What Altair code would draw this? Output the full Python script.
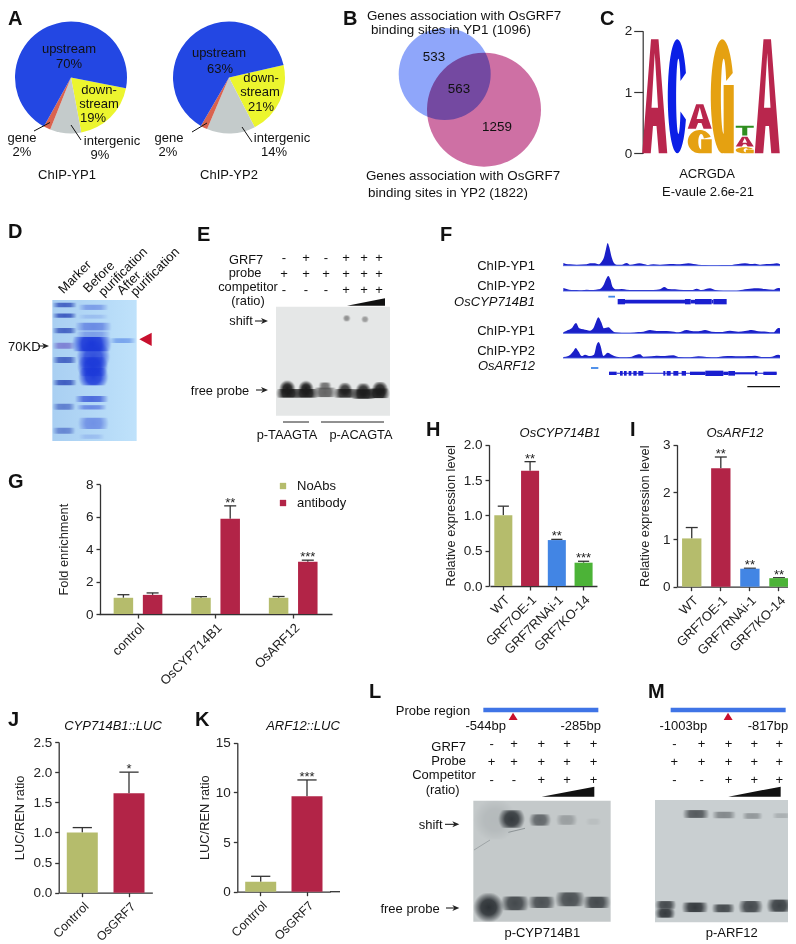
import numpy as np
import pandas as pd
import altair as alt

FONT = "Liberation Sans"
OLIVE, CRIMSON, BLUE, GREEN = "#B5BC6C", "#B22447", "#4285E4", "#4CB337"
INK = "#222222"
AX = "#333333"

# ---------- data ----------
pie1_values = [19, 9, 2, 70]
pie2_values = [21, 14, 2, 63]
pie_colors = ["#ECF52E", "#C4CBCB", "#D9634F", "#2347E3"]

logo_pos = [1, 2, 3, 3, 4, 5, 5, 5, 6]
logo_letter = ["A", "C", "G", "A", "G", "G", "A", "T", "A"]
logo_base = [0, 0, 0, 0.40, 0, 0, 0.11, 0.29, 0]
logo_height = [1.86, 1.86, 0.38, 0.40, 1.86, 0.10, 0.16, 0.16, 1.86]
logo_colors = {"A": "#B9264D", "C": "#0B1FE6", "G": "#E5A111", "T": "#2F8E1F"}
logo_widths = {1: 25, 2: 19, 3: 24, 4: 23, 5: 18, 6: 25}

track1 = [(400,8),(408,5),(420,4),(440,3),(470,4),(480,7),(495,7),(505,4),(515,12),(522,25),(528,50),(533,68),(538,55),(545,25),(552,8),(560,3),(575,3),(590,8),(600,3),(615,5),(628,7),(640,5),(655,2),(670,4),(690,3),(710,4),(730,5),(750,4),(775,7),(790,5),(805,3),(825,2),(850,1),(875,2),(900,2),(925,5),(945,7),(960,5),(975,6),(990,3),(1010,5),(1030,6),(1040,7),(1050,4)]
track2 = [(400,9),(410,6),(425,3),(440,3),(455,2),(470,4),(490,3),(505,5),(515,10),(522,20),(528,35),(535,45),(541,35),(548,12),(558,5),(575,6),(590,4),(610,3),(640,3),(670,3),(690,5),(703,12),(715,6),(735,5),(760,3),(785,3),(800,7),(815,3),(840,8),(855,3),(880,1),(920,1),(945,5),(960,7),(985,8),(1005,6),(1030,4),(1045,9),(1050,8)]
track3 = [(400,3),(410,8),(425,15),(438,31),(448,15),(460,12),(480,8),(490,15),(498,35),(505,48),(513,35),(522,15),(535,18),(545,10),(555,3),(575,2),(600,2),(625,4),(640,5),(660,10),(680,7),(700,7),(720,6),(745,3),(770,10),(790,6),(805,6),(825,10),(845,5),(870,4),(900,8),(925,5),(945,7),(965,10),(985,6),(1010,5),(1030,3),(1045,16),(1050,15)]
track4 = [(400,3),(415,6),(430,20),(437,30),(445,20),(455,6),(465,10),(480,6),(492,10),(500,40),(506,48),(512,35),(520,6),(533,16),(545,10),(560,4),(580,2),(600,3),(620,10),(630,11),(640,4),(665,5),(680,7),(705,6),(730,8),(745,3),(780,2),(805,5),(830,3),(860,2),(880,5),(905,6),(930,5),(955,6),(975,7),(1000,3),(1020,3),(1045,10),(1050,8)]
gene1_exons = [(563,585,16),(585,765,11),(765,782,16),(782,795,11),(795,845,16),(845,850,11),(850,890,16)]
gene2_exons = [(537,560,10),(560,1040,3),(570,578,14),(582,590,14),(596,604,14),(610,620,14),(625,640,14),(700,706,14),(710,722,14),(730,745,14),(755,768,14),(780,826,10),(826,880,16),(880,895,10),(895,915,14),(915,975,6),(975,982,14),(1000,1040,10)]

g_cats = ["control", "OsCYP714B1", "OsARF12"]
g_noabs = [1.0, 1.0, 1.0]
g_noabs_err = [0.19, 0.07, 0.08]
g_anti = [1.18, 5.87, 3.22]
g_anti_err = [0.12, 0.8, 0.1]
g_noabs_star = ["", "", ""]
g_anti_star = ["", "**", "***"]

line_cats = ["WT", "GRF7OE-1", "GRF7RNAi-1", "GRF7KO-14"]
line_colors = [OLIVE, CRIMSON, BLUE, GREEN]
h_vals, h_errs, h_stars = [1.0, 1.63, 0.65, 0.33], [0.13, 0.13, 0.01, 0.02], ["", "**", "**", "***"]
i_vals, i_errs, i_stars = [1.02, 2.5, 0.38, 0.18], [0.23, 0.24, 0.01, 0.01], ["", "**", "**", "**"]
luc_cats = ["Contrrol", "OsGRF7"]
j_vals, j_errs, j_stars = [1.0, 1.65], [0.08, 0.35], ["", "*"]
k_vals, k_errs, k_stars = [1.0, 9.6], [0.55, 1.65], ["", "***"]

W, H = 780, 936
layers = []
ONE = pd.DataFrame({"a": [0]})
texts = []


def T(s, x, y, size=13, align="center", angle=0, italic=False, bold=False):
    texts.append(dict(t=s, x=x - 8, y=y - 8, s=size, an=angle, align=align,
                      st="italic" if italic else "normal", w="bold" if bold else "normal"))


def rule(x1, y1, x2, y2, color=INK, width=1.0):
    layers.append(alt.Chart(ONE).mark_rule(color=color, strokeWidth=width).encode(
        x=alt.value(x1 - 8), y=alt.value(y1 - 8), x2=alt.value(x2 - 8), y2=alt.value(y2 - 8)))


def poly(points, color):
    path = "M" + "L".join(f"{x-8:.2f},{y-8:.2f}" for x, y in points) + "Z"
    layers.append(alt.Chart(ONE).mark_point(shape=path, size=4, filled=True, opacity=1, color=color,
                                            strokeWidth=0).encode(x=alt.value(0), y=alt.value(0)))


def arrow(x1, x2, y):
    rule(x1, y, x2 - 3, y, INK, 1.1)
    poly([(x2, y), (x2 - 7, y - 3), (x2 - 5, y), (x2 - 7, y + 3)], INK)


def pie(values, cx, cy, r, start_deg):
    df = pd.DataFrame({"v": values, "i": range(len(values)), "c": pie_colors})
    a = np.deg2rad(start_deg)
    layers.append(alt.Chart(df).mark_arc(radius=r, strokeWidth=0).encode(
        theta=alt.Theta("v:Q", stack=True, scale=alt.Scale(domain=[0, 100], range=[a, a + 2 * np.pi])),
        order=alt.Order("i:Q"),
        color=alt.Color("c:N", scale=None, legend=None),
        x=alt.value(cx - 8), y=alt.value(cy - 8)))


def base_axes(ypx, xpx, ytitle, ticks, fmt, tick_size=4, title_pad=6, xfont=13):
    yax = alt.Axis(orient="left", offset=-(xpx - 8), title=ytitle, values=ticks, format=fmt, grid=False,
                   tickSize=tick_size, titlePadding=title_pad, titleFontSize=12.8, titleFontWeight="normal",
                   titleColor=INK, labelFontSize=13.5, labelColor=INK, domainColor=AX, tickColor=AX,
                   domainWidth=1.3, tickWidth=1.3, labelPadding=3)
    xax = alt.Axis(orient="bottom", offset=(ypx - 8) - H, title=None, labelAngle=-45, labelFontSize=xfont,
                   labelColor=INK, domainColor=AX, tickColor=AX, domainWidth=1.3, tickWidth=1.3, tickSize=4,
                   grid=False, labelPadding=3)
    return xax, yax


def error_layers(df, X, ys, cap):
    layers.append(alt.Chart(df).mark_rule(color=AX, strokeWidth=1.3).encode(
        x=X, y=alt.Y("val:Q", scale=ys, axis=None), y2="top:Q"))
    layers.append(alt.Chart(df).mark_point(shape="stroke", size=cap * cap, color=AX, strokeWidth=1.3,
                                           opacity=1).encode(x=X, y=alt.Y("top:Q", scale=ys, axis=None)))


def star_layer(df, X, ys):
    layers.append(alt.Chart(df).mark_text(font=FONT, fontSize=13, dy=-3, color=INK).encode(
        x=X, y=alt.Y("top:Q", scale=ys, axis=None), text="star:N"))


def barpanel(cats, vals, errs, stars, colors, centers, bar_w, y0, y1, ymax, ticks, fmt, ytitle, xaxis_px,
             title_pad=6, xfont=13):
    step = centers[1] - centers[0]
    p = 1 - bar_w / step
    xs = alt.Scale(domain=cats, range=[centers[0] - step / 2 - 8, centers[-1] + step / 2 - 8],
                   paddingInner=p, paddingOuter=p / 2)
    ys = alt.Scale(domain=[0, ymax], range=[y0 - 8, y1 - 8], nice=False)
    df = pd.DataFrame({"cat": cats, "val": vals, "top": [v + e for v, e in zip(vals, errs)],
                       "star": stars, "col": colors})
    xax, yax = base_axes(y0, xaxis_px, ytitle, ticks, fmt, title_pad=title_pad, xfont=xfont)
    X = alt.X("cat:N", scale=xs, axis=None, sort=cats)
    error_layers(df, X, ys, bar_w * 0.62)
    layers.append(alt.Chart(df).mark_bar().encode(
        x=alt.X("cat:N", scale=xs, axis=xax, sort=cats),
        y=alt.Y("val:Q", scale=ys, axis=yax),
        color=alt.Color("col:N", scale=None, legend=None)))
    star_layer(df, X, ys)


def gel(ox, oy, box, bg, bands):
    """box and bands are in the picture's 3x zoom units, with origin ox, oy"""
    xa, xb, ya, yb = box
    xs = alt.Scale(domain=[xa, xb], range=[xa / 3 + ox - 8, xb / 3 + ox - 8], nice=False, zero=False)
    ys = alt.Scale(domain=[ya, yb], range=[ya / 3 + oy - 8, yb / 3 + oy - 8], nice=False, zero=False)
    df = pd.DataFrame({"a": [xa], "b": [xb], "c": [ya], "d": [yb]})
    layers.append(alt.Chart(df).mark_rect(fill=bg, strokeWidth=0).encode(
        x=alt.X("a:Q", scale=xs, axis=None), x2="b:Q", y=alt.Y("c:Q", scale=ys, axis=None), y2="d:Q"))
    for color, rows in bands.items():
        bd = pd.DataFrame(rows, columns=["cx", "cy", "w", "h", "op"])
        bd["w"], bd["h"] = bd.w * 1.3, bd.h * 1.3
        bd["a"], bd["b"] = (bd.cx - bd.w / 2).clip(lower=xa), (bd.cx + bd.w / 2).clip(upper=xb)
        bd["c"], bd["d"] = (bd.cy - bd.h / 2).clip(lower=ya), (bd.cy + bd.h / 2).clip(upper=yb)
        grad = {"gradient": "radial", "stops": [
            {"offset": 0, "color": color},
            {"offset": 0.5, "color": color + "E6"},
            {"offset": 0.8, "color": color + "66"},
            {"offset": 1, "color": color + "00"}]}
        layers.append(alt.Chart(bd).mark_rect(fill=grad, strokeWidth=0).encode(
            x=alt.X("a:Q", scale=xs, axis=None), x2="b:Q", y=alt.Y("c:Q", scale=ys, axis=None), y2="d:Q",
            opacity=alt.Opacity("op:Q", scale=None, legend=None)))


# ---------- panel letters ----------
for s, x, y in [("A", 8, 19), ("B", 343, 19), ("C", 600, 19), ("D", 8, 232), ("E", 197, 235), ("F", 440, 235),
                ("G", 8, 482), ("H", 426, 430), ("I", 630, 430), ("J", 8, 720), ("K", 195, 720),
                ("L", 369, 692), ("M", 648, 692)]:
    T(s, x, y, 20, "left", bold=True)

# ---------- A ----------
pie(pie1_values, 71, 77.5, 56, 101)
pie(pie2_values, 229, 77.5, 56, 77)
rule(34, 131, 50, 122.5, "#111111", 1)
rule(71, 125, 81, 140, "#111111", 1)
rule(192, 132, 207, 123, "#111111", 1)
rule(242, 127, 252, 142, "#111111", 1)
for s, x, y in [("upstream", 69, 49), ("70%", 69, 64), ("down-", 99, 90), ("stream", 99, 104), ("19%", 93, 118),
                ("gene", 22, 138), ("2%", 22, 152), ("intergenic", 112, 141), ("9%", 100, 155), ("ChIP-YP1", 67, 175),
                ("upstream", 219, 53), ("63%", 220, 69), ("down-", 261, 78), ("stream", 260, 92), ("21%", 261, 107),
                ("gene", 169, 138), ("2%", 168, 152), ("intergenic", 282, 138), ("14%", 274, 152), ("ChIP-YP2", 229, 175)]:
    T(s, x, y)

# ---------- B ----------
layers.append(alt.Chart(ONE).mark_point(filled=True, opacity=1, color="#8FA6FA", size=(2 * 46) ** 2, strokeWidth=0).encode(
    x=alt.value(444.7 - 8), y=alt.value(74 - 8)))
layers.append(alt.Chart(ONE).mark_point(filled=True, opacity=1, color="#CE70A4", size=(2 * 57) ** 2, strokeWidth=0,
                                        blend="multiply").encode(x=alt.value(484 - 8), y=alt.value(109.7 - 8)))
for s, x, y in [("Genes association with OsGRF7", 464, 16), ("binding sites in YP1 (1096)", 451, 30),
                ("533", 434, 57), ("563", 459, 89), ("1259", 497, 127),
                ("Genes association with OsGRF7", 463, 176), ("binding sites in YP2 (1822)", 448, 193)]:
    T(s, x, y, 13.4)


# ---------- C ----------
def contour(pts, w, h):
    return "M" + "L".join(f"{u*w:.2f},{-v*h:.2f}" for u, v in pts) + "Z"


def ring(t0, t1, rx=0.12, ry=0.33, cx=0.06):
    ts = np.deg2rad(np.linspace(t0, t1, 40))
    outer = [(0.5 * np.cos(t), 0.5 * np.sin(t)) for t in ts]
    inner = [(cx + rx * np.cos(t), ry * np.sin(t)) for t in ts[::-1]]
    return outer + inner


def glyph(letter, w, h):
    if letter == "A":
        return (contour([(-.5, -.5), (-.15, .5), (.15, .5), (.5, -.5), (.16, -.5), (.07, -.26), (-.07, -.26), (-.16, -.5)], w, h)
                + contour([(-.13, -.1), (.13, -.1), (0, .38)], w, h))
    if letter == "C":
        return contour(ring(24, 336), w, h)
    if letter == "G":
        return (contour(ring(24, 320), w, h)
                + contour([(.06, -.5), (.5, -.5), (.5, .1), (.06, .1)], w, h))
    return contour([(-.5, .5), (-.5, .28), (-.14, .28), (-.14, -.5), (.14, -.5), (.14, .28), (.5, .28), (.5, .5)], w, h)


logo_x = alt.Scale(domain=[1, 2, 3, 4, 5, 6], range=[643.5 - 8, 778.5 - 8], paddingInner=0, paddingOuter=0)
logo_y = alt.Scale(domain=[0, 2], range=[153.3 - 8, 30.7 - 8], nice=False)
px_bit = (153.3 - 30.7) / 2
logo_df = pd.DataFrame({"pos": logo_pos, "letter": logo_letter,
                        "mid": [b + h / 2 for b, h in zip(logo_base, logo_height)],
                        "path": [glyph(l, logo_widths[p], h * px_bit) for l, p, h in zip(logo_letter, logo_pos, logo_height)],
                        "col": [logo_colors[l] for l in logo_letter]})
layers.append(alt.Chart(logo_df).mark_point(filled=True, opacity=1, size=4, strokeWidth=0).encode(
    x=alt.X("pos:O", scale=logo_x, axis=None),
    y=alt.Y("mid:Q", scale=logo_y, axis=alt.Axis(orient="left", offset=-(642.7 - 8), title=None, values=[0, 1, 2], grid=False,
                                                 tickSize=9, labelFontSize=13.5, labelColor=INK, domainColor=AX, tickColor=AX,
                                                 domainWidth=1.2, tickWidth=1.2, format="d", labelPadding=2,
                                                 labelOverlap=False)),
    shape=alt.Shape("path:N", scale=None, legend=None),
    color=alt.Color("col:N", scale=None, legend=None)))
layers.append(alt.Chart(logo_df).mark_point(opacity=0).encode(
    y=alt.Y("mid:Q", scale=logo_y, axis=alt.Axis(orient="left", offset=-(642.7 - 8), title=None, values=[1], grid=False, domain=False,
                                                 tickSize=9, labelFontSize=13.5, labelColor=INK, tickColor=AX,
                                                 tickWidth=1.2, format="d", labelPadding=2, labelOverlap=False))))
T("ACRGDA", 707, 174, 13)
T("E-vaule 2.6e-21", 708, 192, 13)

# ---------- D ----------
gel(0, 210, (157, 410, 270, 693),
    {"gradient": "linear", "x1": 0, "x2": 1, "y1": 0, "y2": 0,
     "stops": [{"offset": 0, "color": "#A9CFF2"}, {"offset": 0.5, "color": "#B3D8F6"}, {"offset": 1, "color": "#BFE2FB"}]},
    {"#2C49B8": [(193, 285, 58, 10, .8), (193, 317, 58, 10, .85), (193, 362, 58, 12, .8), (193, 450, 58, 14, .8),
                 (193, 518, 58, 12, .85), (190, 590, 56, 14, .6), (190, 662, 56, 14, .55)],
     "#6A60C8": [(190, 407, 56, 14, .7)],
     "#3A58D8": [(280, 292, 70, 12, .45), (280, 350, 85, 18, .6), (280, 372, 80, 12, .45), (280, 320, 70, 9, .2),
                 (275, 567, 78, 14, .85), (275, 592, 70, 10, .6), (280, 640, 72, 26, .55), (275, 680, 60, 10, .2)],
     "#1B38D8": [(275, 402, 92, 34, 1), (280, 440, 78, 70, .85), (278, 470, 72, 44, .95), (280, 500, 70, 40, .95)],
     "#5C8CE8": [(368, 392, 62, 11, .7)]})
T("Marker", 75, 277, 13, angle=-45)
T("Before", 99, 277, 13, angle=-45)
T("purification", 123, 272, 13, angle=-45)
T("After", 129, 283, 13, angle=-45)
T("purification", 155, 272, 13, angle=-45)
T("70KD", 8, 347, 13, "left")
arrow(38, 49, 346)
poly([(139.3, 339.3), (151.7, 332.7), (151.7, 346)], "#C8102E")

# ---------- E ----------
gel(0, 210, (828, 1170, 290, 617), "#E5E7E7",
    {"#1C1C1C": [(862, 550, 62, 20, 1), (862, 535, 38, 36, 1), (918, 550, 58, 20, 1), (918, 535, 36, 36, 1),
                 (1035, 550, 54, 20, .9), (1035, 538, 34, 30, .85), (1090, 552, 58, 22, 1), (1090, 540, 36, 30, .9),
                 (1140, 550, 60, 22, 1), (1140, 537, 38, 32, .95)],
     "#555555": [(975, 547, 54, 22, .9), (975, 528, 30, 16, .8)],
     "#777777": [(1040, 325, 18, 14, .8), (1095, 328, 18, 14, .7)]})
for s, x, y in [("GRF7", 246, 259.5), ("probe", 245, 273), ("competitor", 248, 287), ("(ratio)", 248, 300.5),
                ("shift", 241, 321), ("free probe", 220, 391), ("p-TAAGTA", 287, 435), ("p-ACAGTA", 361, 435)]:
    T(s, x, y, 12.8)
e_cols = [284, 306, 326, 346, 364, 379]
for col, sg in zip(e_cols, ["-", "+", "-", "+", "+", "+"]):
    T(sg, col, 257.7, 13)
for col in e_cols:
    T("+", col, 274, 13)
for col, sg in zip(e_cols, ["-", "-", "-", "+", "+", "+"]):
    T(sg, col, 290, 13)
poly([(347, 305.7), (385, 298.3), (385, 305.7)], "#111111")
arrow(255, 268, 321)
arrow(256, 268, 390)
rule(283, 422, 309, 422, "#222222", 1)
rule(321, 422, 384, 422, "#222222", 1)

# ---------- F ----------
fx = alt.Scale(domain=[400, 1050], range=[400 / 3 + 430 - 8, 1050 / 3 + 430 - 8], nice=False, zero=False)
fy = alt.Scale(domain=[0, 600], range=[220 - 8, 420 - 8], nice=False, zero=False)
for tr, base in zip([track1, track2, track3, track4], [137, 213, 340, 414]):
    d = pd.DataFrame(tr, columns=["p", "h"])
    d["top"], d["base"] = base - d.h, base
    layers.append(alt.Chart(d).mark_area(color="#1A1FC8", interpolate="monotone", opacity=1).encode(
        x=alt.X("p:Q", scale=fx, axis=None), y=alt.Y("top:Q", scale=fy, axis=None), y2="base:Q"))
    rule(563, base / 3 + 220, 780, base / 3 + 220, "#4F63E0", 0.9)
for ex, yc in [(gene1_exons, 245), (gene2_exons, 460)]:
    d = pd.DataFrame(ex, columns=["a", "b", "h"])
    d["t"], d["u"] = yc - d.h / 2, yc + d.h / 2
    layers.append(alt.Chart(d).mark_rect(color="#1A1FD0", strokeWidth=0).encode(
        x=alt.X("a:Q", scale=fx, axis=None), x2="b:Q", y=alt.Y("t:Q", scale=fy, axis=None), y2="u:Q"))
rule(535 / 3 + 430, 230 / 3 + 220, 555 / 3 + 430, 230 / 3 + 220, "#3F86E8", 1.8)
rule(483 / 3 + 430, 444 / 3 + 220, 505 / 3 + 430, 444 / 3 + 220, "#3F86E8", 1.8)
rule(952 / 3 + 430, 500 / 3 + 220, 1050 / 3 + 430, 500 / 3 + 220, "#111111", 1.4)
for s, y, it in [("ChIP-YP1", 265.7, False), ("ChIP-YP2", 285.7, False), ("OsCYP714B1", 301.7, True),
                 ("ChIP-YP1", 330.7, False), ("ChIP-YP2", 350.7, False), ("OsARF12", 366, True)]:
    T(s, 535, y, 13, "right", italic=it)

# ---------- G ----------
g_centers = [138, 215.6, 293.2]
g_step = g_centers[1] - g_centers[0]
g_w = 19.5
g_p = 1 - g_w / g_step
g_a, g_b = g_centers[0] - g_step / 2 - 8, g_centers[-1] + g_step / 2 - 8
g_ys = alt.Scale(domain=[0, 8], range=[614 - 8, 484.3 - 8], nice=False)
g_xax, g_yax = base_axes(614, 100, "Fold enrichment", [0, 2, 4, 6, 8], "d", title_pad=15)
g_xs0 = alt.Scale(domain=g_cats, range=[g_a, g_b], paddingInner=g_p, paddingOuter=g_p / 2)
layers.append(alt.Chart(pd.DataFrame({"cat": g_cats, "val": g_noabs})).mark_bar(opacity=0).encode(
    x=alt.X("cat:N", scale=g_xs0, axis=g_xax, sort=g_cats), y=alt.Y("val:Q", scale=g_ys, axis=g_yax)))
for vals, errs, stars, col, shift in [(g_noabs, g_noabs_err, g_noabs_star, OLIVE, -14.6),
                                      (g_anti, g_anti_err, g_anti_star, CRIMSON, 14.6)]:
    xs = alt.Scale(domain=g_cats, range=[g_a + shift, g_b + shift], paddingInner=g_p, paddingOuter=g_p / 2)
    df = pd.DataFrame({"cat": g_cats, "val": vals, "top": [v + e for v, e in zip(vals, errs)], "star": stars})
    X = alt.X("cat:N", scale=xs, axis=None, sort=g_cats)
    error_layers(df, X, g_ys, 12)
    layers.append(alt.Chart(df).mark_bar(color=col).encode(x=X, y=alt.Y("val:Q", scale=g_ys, axis=None)))
    star_layer(df, X, g_ys)
for col, s, y in [(OLIVE, "NoAbs", 486), (CRIMSON, "antibody", 503)]:
    layers.append(alt.Chart(ONE).mark_point(shape="square", filled=True, opacity=1, color=col, size=40, strokeWidth=0).encode(
        x=alt.value(283 - 8), y=alt.value(y - 8)))
    T(s, 297, y, 13, "left")

# ---------- H, I, J, K ----------
barpanel(line_cats, h_vals, h_errs, h_stars, line_colors, [503.3, 530, 556.8, 583.6], 18, 586, 444.7, 2.0,
         [0, 0.5, 1, 1.5, 2], ".1f", "Relative expression level", 489)
T("OsCYP714B1", 560, 432.7, 13, italic=True)
barpanel(line_cats, i_vals, i_errs, i_stars, line_colors, [691.7, 720.7, 750, 779], 19.3, 586.7, 444.7, 3,
         [0, 1, 2, 3], "d", "Relative expression level", 677, title_pad=11)
T("OsARF12", 735, 432.7, 13, italic=True)
barpanel(luc_cats, j_vals, j_errs, j_stars, [OLIVE, CRIMSON], [82.3, 129], 31, 892.7, 742, 2.5,
         [0, 0.5, 1, 1.5, 2, 2.5], ".1f", "LUC/REN ratio", 58.7, xfont=12.4)
T("CYP714B1::LUC", 113, 726, 13, italic=True)
barpanel(luc_cats, k_vals, k_errs, k_stars, [OLIVE, CRIMSON], [260.7, 307], 31, 891.7, 742.7, 15,
         [0, 5, 10, 15], "d", "LUC/REN ratio", 237.3, title_pad=4, xfont=12.4)
rule(330, 891.7, 340, 891.7, AX, 1.3)
T("ARF12::LUC", 303, 726, 13, italic=True)

# ---------- L, M ----------
ZX, ZY = 340, 670


def zx(v):
    return v / 3 + ZX


def zy(v):
    return v / 3 + ZY


gel(ZX, ZY, (400, 812, 392, 755), "#C4C9CA",
    {"#7E8588": [(420, 410, 170, 150, .22)],
     "#2D3236": [(445, 715, 72, 70, 1), (525, 700, 66, 32, .85), (605, 697, 64, 26, .8), (690, 688, 70, 32, .8), (775, 697, 72, 26, .85),
                 (515, 447, 62, 40, .95), (600, 450, 52, 26, .65), (680, 450, 50, 22, .28), (760, 455, 36, 14, .07)]})
gel(ZX, ZY, (945, 1366, 390, 757), "#C9CFD1",
    {"#2D3236": [(975, 705, 52, 18, .85), (975, 730, 48, 20, .95), (1065, 712, 62, 22, .95), (1150, 715, 54, 18, .85),
                 (1232, 710, 58, 26, .85), (1318, 707, 60, 28, .9),
                 (1068, 432, 62, 18, .75), (1152, 435, 56, 15, .45), (1237, 438, 48, 13, .35), (1325, 437, 44, 11, .2)]})
rule(zx(402), zy(540), zx(450), zy(510), "#8E9496", 0.7)
rule(zx(505), zy(487), zx(555), zy(475), "#7E8588", 0.8)
rule(zx(430), zy(120), zx(775), zy(120), "#3F74E6", 4.5)
rule(zx(992), zy(120), zx(1337), zy(120), "#3F74E6", 4.5)
poly([(zx(506), zy(150)), (zx(519), zy(128)), (zx(533), zy(150))], "#C8102E")
poly([(zx(1151), zy(150)), (zx(1164), zy(128)), (zx(1178), zy(150))], "#C8102E")
poly([(zx(605), zy(380)), (zx(763), zy(350)), (zx(763), zy(380))], "#111111")
poly([(zx(1165), zy(380)), (zx(1322), zy(350)), (zx(1322), zy(380))], "#111111")
for s, x, y in [("Probe region", 279, 122), ("-544bp", 437, 167), ("-285bp", 722, 167), ("GRF7", 326, 230), ("Probe", 326, 273),
                ("Competitor", 312, 316), ("(ratio)", 308, 360), ("shift", 272, 465), ("free probe", 210, 716),
                ("p-CYP714B1", 607, 790), ("-1003bp", 1030, 167), ("-817bp", 1284, 167), ("p-ARF12", 1175, 790)]:
    T(s, zx(x), zy(y), 13)
arrow(zx(315), zx(358), zy(463))
arrow(zx(318), zx(358), zy(714))
for cols in ([455, 522, 604, 681, 761], [1003, 1085, 1166, 1243, 1318]):
    for col, a, b, c in zip(cols, "-++++", "+++++", "--+++"):
        T(a, zx(col), zy(222), 13)
        T(b, zx(col), zy(275), 13)
        T(c, zx(col), zy(330), 13)

# ---------- all text ----------
tdf = pd.DataFrame(texts)
for (align, st, w), g in tdf.groupby(["align", "st", "w"]):
    layers.append(alt.Chart(g.drop(columns=["align", "st", "w"])).mark_text(
        font=FONT, align=align, baseline="middle", fontStyle=st, fontWeight=w, color="#111111").encode(
        x=alt.X("x:Q", scale=None, axis=None), y=alt.Y("y:Q", scale=None, axis=None), text="t:N",
        size=alt.Size("s:Q", scale=None, legend=None), angle=alt.Angle("an:Q", scale=None, legend=None)))

chart = alt.layer(*layers).resolve_scale(
    x="independent", y="independent", color="independent", opacity="independent", theta="independent",
    shape="independent", size="independent", angle="independent"
).properties(width=W, height=H, padding=0, autosize=alt.AutoSizeParams(type="none")
).configure(font=FONT).configure_view(stroke=None).configure_axis(grid=False)

chart.save("out.html", embed_options={"renderer": "svg", "actions": False})
